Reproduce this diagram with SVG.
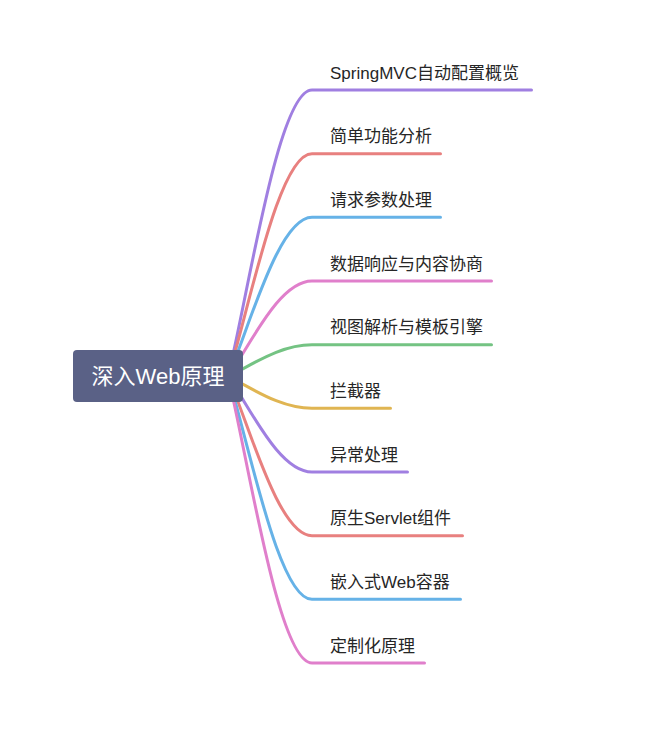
<svg xmlns="http://www.w3.org/2000/svg" width="658" height="738" viewBox="0 0 658 738">
<style>
.bg{fill:#ffffff}
.c{fill:none;stroke-width:3;stroke-linecap:round;stroke-linejoin:round}
.purple{stroke:#a07fe1}
.red{stroke:#e8807f}
.blue{stroke:#66b2e7}
.pink{stroke:#e07fcb}
.green{stroke:#74c383}
.yellow{stroke:#e0b552}
.root{fill:#5a6186}
.rt{font-family:"Liberation Sans","Noto Sans CJK SC",sans-serif;font-size:22px;fill:#ffffff;text-anchor:middle}
.t{font-family:"Liberation Sans","Noto Sans CJK SC",sans-serif;font-size:17px;fill:#262626}
</style>
<rect class="bg" x="0" y="0" width="658" height="738"/>
<g id="connectors">
<path class="c purple" d="M228 376.5 C249 290.55 278.4 90 312 90 L531.5 90"/>
<path class="c red" d="M228 376.5 C249 309.66 278.4 153.7 312 153.7 L440.5 153.7"/>
<path class="c blue" d="M228 376.5 C249 328.74 278.4 217.3 312 217.3 L440.5 217.3"/>
<path class="c pink" d="M228 376.5 C249 347.85 278.4 281 312 281 L491.5 281"/>
<path class="c green" d="M228 376.5 C249 366.96 278.4 344.7 312 344.7 L491.5 344.7"/>
<path class="c yellow" d="M228 376.5 C249 386.04 278.4 408.3 312 408.3 L390.5 408.3"/>
<path class="c purple" d="M228 376.5 C249 405.15 278.4 472 312 472 L407.5 472"/>
<path class="c red" d="M228 376.5 C249 424.26 278.4 535.7 312 535.7 L462.5 535.7"/>
<path class="c blue" d="M228 376.5 C249 443.34 278.4 599.3 312 599.3 L460.5 599.3"/>
<path class="c pink" d="M228 376.5 C249 462.45 278.4 663 312 663 L424.5 663"/>
</g>
<g id="root">
<rect class="root" x="73" y="350" width="170" height="52" rx="4" ry="4"/>
<text class="rt" x="158" y="384">深入Web原理</text>
</g>
<g id="n1"><text class="t" x="330" y="78.5">SpringMVC自动配置概览</text></g>
<g id="n2"><text class="t" x="330" y="142.2">简单功能分析</text></g>
<g id="n3"><text class="t" x="330" y="205.8">请求参数处理</text></g>
<g id="n4"><text class="t" x="330" y="269.5">数据响应与内容协商</text></g>
<g id="n5"><text class="t" x="330" y="333.2">视图解析与模板引擎</text></g>
<g id="n6"><text class="t" x="330" y="396.8">拦截器</text></g>
<g id="n7"><text class="t" x="330" y="460.5">异常处理</text></g>
<g id="n8"><text class="t" x="330" y="524.2">原生Servlet组件</text></g>
<g id="n9"><text class="t" x="330" y="587.8">嵌入式Web容器</text></g>
<g id="n10"><text class="t" x="330" y="651.5">定制化原理</text></g>
</svg>
